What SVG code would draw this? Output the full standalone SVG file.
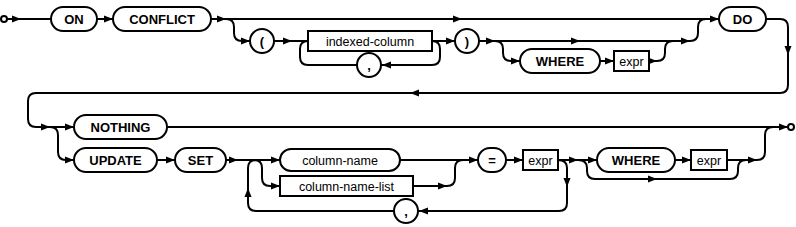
<svg xmlns="http://www.w3.org/2000/svg" xmlns:xlink="http://www.w3.org/1999/xlink" width="796" height="227" viewBox="0 0 796 227">
<style>
.k{fill:#fff;stroke:#000;stroke-width:2}
.c path{fill:none;stroke:#000;stroke-width:2}
text{font-family:"Liberation Sans",Arial,Helvetica,sans-serif;text-anchor:middle;fill:#000}
.kw{font-weight:bold;font-size:13px}
.nt{font-size:12.5px}
</style>
<defs>
<path id="a" d="M0,0 L-9,-3.5 L-9,3.5 Z" fill="#000"/>
</defs>
<g id="connectors" class="c">
<path d="M7,19 H51"/>
<path d="M97,19 H113"/>
<path d="M211,19 H719"/>
<path d="M226,19 Q234,19 234,27 V33 Q234,41 242,41 H250"/>
<path d="M274,41 H308"/>
<path d="M432,41 H455"/>
<path d="M432,41 Q440,41 440,49 V57 Q440,65 432,65 H381"/>
<path d="M357,65 H308 Q300,65 300,57 V49 Q300,41 308,41"/>
<path d="M479,41 H690 Q698,41 698,33 V27 Q698,19 706,19"/>
<path d="M495,41 Q503,41 503,49 V53 Q503,61 511,61 H520"/>
<path d="M600,61 H614"/>
<path d="M649,61 H657 Q665,61 665,53 V49 Q665,41 673,41"/>
<path d="M766,19 H780 Q788,19 788,27 V85 Q788,93 780,93 H36 Q28,93 28,101 V119 Q28,127 36,127 H74"/>
<path d="M50,127 Q58,127 58,135 V152 Q58,160 66,160 H74"/>
<path d="M167,127 H788"/>
<path d="M157,160 H175"/>
<path d="M226,160 H280"/>
<path d="M394,211 H256 Q248,211 248,203 V168 Q248,160 256,160"/>
<path d="M254,160 Q262,160 262,168 V178 Q262,186 270,186 H280"/>
<path d="M400,160 H478"/>
<path d="M413,186 H447 Q455,186 455,178 V168 Q455,160 463,160"/>
<path d="M506,160 H523"/>
<path d="M558,160 H597"/>
<path d="M558,160 Q567,160 567,168 V203 Q567,211 559,211 H418"/>
<path d="M578,160 Q587,160 587,168 V171 Q587,179 595,179 H730 Q738,179 738,171 V168 Q738,160 746,160"/>
<path d="M675,160 H691"/>
<path d="M727,160 H757 Q765,160 765,152 V135 Q765,127 773,127"/>
<use xlink:href="#a" transform="translate(21,19)"/>
<use xlink:href="#a" transform="translate(113,19)"/>
<use xlink:href="#a" transform="translate(226,19)"/>
<use xlink:href="#a" transform="translate(462,19)"/>
<use xlink:href="#a" transform="translate(719,19)"/>
<use xlink:href="#a" transform="translate(250,41)"/>
<use xlink:href="#a" transform="translate(292,41)"/>
<use xlink:href="#a" transform="translate(455,41)"/>
<use xlink:href="#a" transform="translate(495,41)"/>
<use xlink:href="#a" transform="translate(580,41)"/>
<use xlink:href="#a" transform="translate(690,41)"/>
<use xlink:href="#a" transform="translate(382,65) rotate(180)"/>
<use xlink:href="#a" transform="translate(520,61)"/>
<use xlink:href="#a" transform="translate(614,61)"/>
<use xlink:href="#a" transform="translate(657,61)"/>
<use xlink:href="#a" transform="translate(788,55) rotate(90)"/>
<use xlink:href="#a" transform="translate(410,93) rotate(180)"/>
<use xlink:href="#a" transform="translate(50,127)"/>
<use xlink:href="#a" transform="translate(74,127)"/>
<use xlink:href="#a" transform="translate(74,160)"/>
<use xlink:href="#a" transform="translate(175,160)"/>
<use xlink:href="#a" transform="translate(238,160)"/>
<use xlink:href="#a" transform="translate(248,188) rotate(-90)"/>
<use xlink:href="#a" transform="translate(280,160)"/>
<use xlink:href="#a" transform="translate(280,186)"/>
<use xlink:href="#a" transform="translate(447,186)"/>
<use xlink:href="#a" transform="translate(478,160)"/>
<use xlink:href="#a" transform="translate(523,160)"/>
<use xlink:href="#a" transform="translate(578,160)"/>
<use xlink:href="#a" transform="translate(597,160)"/>
<use xlink:href="#a" transform="translate(567,187) rotate(90)"/>
<use xlink:href="#a" transform="translate(419,211) rotate(180)"/>
<use xlink:href="#a" transform="translate(657,179)"/>
<use xlink:href="#a" transform="translate(691,160)"/>
<use xlink:href="#a" transform="translate(757,160)"/>
<use xlink:href="#a" transform="translate(788,127)"/>
</g>
<g id="start"><circle class="k" cx="4" cy="19" r="3"/></g>
<g id="end"><circle class="k" cx="791" cy="127" r="3"/></g>
<g id="n-on"><rect class="k" x="51" y="7" width="46" height="24" rx="12"/><text class="kw" x="74" y="23.5">ON</text></g>
<g id="n-conflict"><rect class="k" x="113" y="7" width="98" height="24" rx="12"/><text class="kw" x="162" y="23.5">CONFLICT</text></g>
<g id="n-lparen"><rect class="k" x="250" y="29" width="24" height="24" rx="12"/><text class="kw" x="262" y="45.5">(</text></g>
<g id="n-indexed-column"><rect class="k" x="308" y="31" width="124" height="20"/><text class="nt" x="370" y="45.5">indexed-column</text></g>
<g id="n-comma1"><rect class="k" x="357" y="53" width="24" height="24" rx="12"/><text class="kw" x="369" y="69.5">,</text></g>
<g id="n-rparen"><rect class="k" x="455" y="29" width="24" height="24" rx="12"/><text class="kw" x="467" y="45.5">)</text></g>
<g id="n-where1"><rect class="k" x="520" y="49" width="80" height="24" rx="12"/><text class="kw" x="560" y="65.5">WHERE</text></g>
<g id="n-expr1"><rect class="k" x="614" y="51" width="35" height="20"/><text class="nt" x="631.5" y="65.5">expr</text></g>
<g id="n-do"><rect class="k" x="719" y="7" width="47" height="24" rx="12"/><text class="kw" x="742.5" y="23.5">DO</text></g>
<g id="n-nothing"><rect class="k" x="74" y="115" width="93" height="24" rx="12"/><text class="kw" x="120.5" y="131.5">NOTHING</text></g>
<g id="n-update"><rect class="k" x="74" y="148" width="83" height="24" rx="12"/><text class="kw" x="115.5" y="164.5">UPDATE</text></g>
<g id="n-set"><rect class="k" x="175" y="148" width="51" height="24" rx="12"/><text class="kw" x="200.5" y="164.5">SET</text></g>
<g id="n-column-name"><rect class="k" x="280" y="149" width="120" height="22" rx="11"/><text class="nt" x="340" y="164.5">column-name</text></g>
<g id="n-column-name-list"><rect class="k" x="280" y="176" width="133" height="20"/><text class="nt" x="346.5" y="190.5">column-name-list</text></g>
<g id="n-comma2"><rect class="k" x="394" y="199" width="24" height="24" rx="12"/><text class="kw" x="406" y="215.5">,</text></g>
<g id="n-eq"><rect class="k" x="478" y="148" width="28" height="24" rx="12"/><text class="kw" x="492" y="164.5">=</text></g>
<g id="n-expr2"><rect class="k" x="523" y="150" width="35" height="20"/><text class="nt" x="540.5" y="164.5">expr</text></g>
<g id="n-where2"><rect class="k" x="597" y="148" width="78" height="24" rx="12"/><text class="kw" x="636" y="164.5">WHERE</text></g>
<g id="n-expr3"><rect class="k" x="691" y="150" width="36" height="20"/><text class="nt" x="709" y="164.5">expr</text></g>
</svg>
